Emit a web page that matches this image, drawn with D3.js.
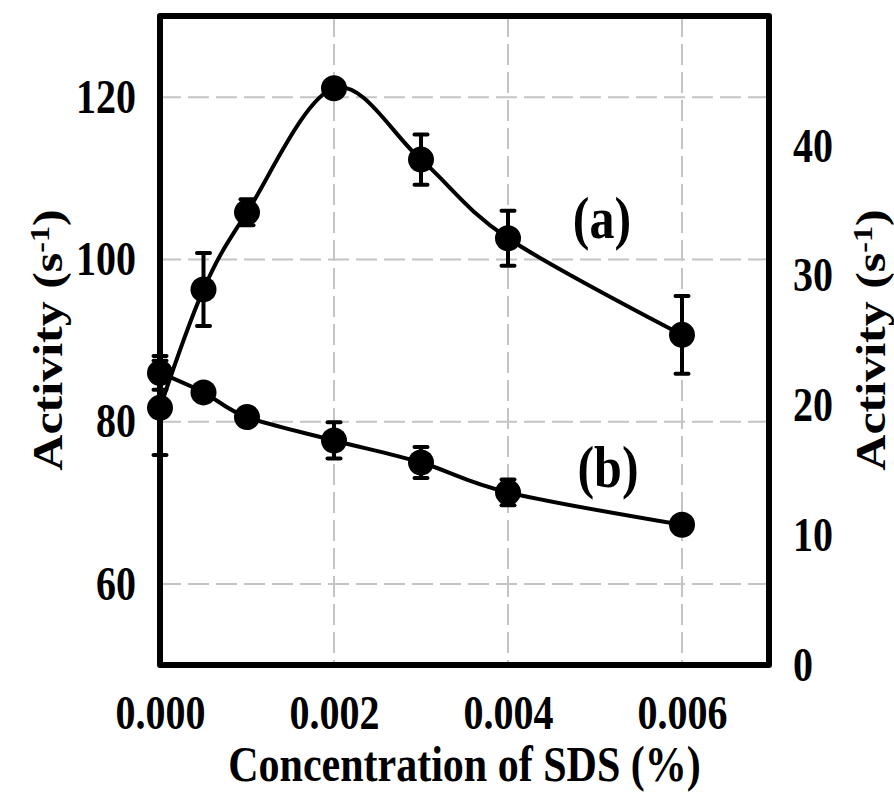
<!DOCTYPE html>
<html>
<head>
<meta charset="utf-8">
<script src="https://cdn.jsdelivr.net/npm/d3@7"></script>
<style>
  html, body { margin: 0; padding: 0; background: #fff; }
  svg text { font-family: "Liberation Serif", "Times New Roman", serif; font-weight: bold; fill: #000; }
</style>
</head>
<body>
<svg id="chart" width="894" height="793"></svg>
<script>
// SDS concentration (%)
const conc = [0, 0.0005, 0.001, 0.002, 0.003, 0.004, 0.006];

// Series (a): activity on the left axis, with error half-widths
const activityA = [81.7, 96.3, 105.8, 121.1, 112.3, 102.6, 90.7];
const errorA    = [5.8, 4.5, 1.6, 0.0, 3.1, 3.4, 4.8];

// Series (b): activity on the right axis, with error half-widths
const activityB = [22.5, 21.0, 19.1, 17.3, 15.6, 13.3, 10.8];
const errorB    = [1.3, 0.6, 0.6, 1.4, 1.2, 1.0, 0.0];

const xTicks = [0, 0.002, 0.004, 0.006];
const leftTicks = [60, 80, 100, 120];
const rightTicks = [0, 10, 20, 30, 40];

const svg = d3.select("#chart");
const L = 160, R = 769, T = 16, B = 665;
const STRETCH = 1.19;   // tall, narrow lettering

const x = d3.scaleLinear().domain([0, 0.007]).range([L, R]);
const yL = d3.scaleLinear().domain([50, 130]).range([B, T]);
const yR = d3.scaleLinear().domain([0, 50]).range([B, T]);

// dashed grid
const grid = svg.append("g").attr("stroke", "#c4c4c4").attr("stroke-width", 2)
  .attr("stroke-dasharray", "21,7");
grid.selectAll("line.v").data(xTicks.filter(d => d > 0)).join("line")
  .attr("x1", d => x(d)).attr("x2", d => x(d)).attr("y1", T).attr("y2", B);
grid.selectAll("line.h").data(leftTicks).join("line")
  .attr("x1", L).attr("x2", R).attr("y1", d => yL(d)).attr("y2", d => yL(d));

// axes (labels only, no tick marks)
const tickFont = 40;
const axL = svg.append("g").attr("transform", `translate(${L},0)`)
  .call(d3.axisLeft(yL).tickValues(leftTicks).tickSize(0).tickPadding(24));
const axR = svg.append("g").attr("transform", `translate(${R},0)`)
  .call(d3.axisRight(yR).tickValues(rightTicks).tickSize(0).tickPadding(24));
const axB = svg.append("g").attr("transform", `translate(0,${B})`)
  .call(d3.axisBottom(x).tickValues(xTicks).tickFormat(d3.format(".3f")).tickSize(0).tickPadding(30));
[axL, axR, axB].forEach(a => {
  a.select(".domain").remove();
  a.selectAll(".tick text").each(function () {
    const t = d3.select(this);
    const tx = +t.attr("x") || 0, ty = +t.attr("y") || 0;
    t.attr("x", 0).attr("y", 0)
      .attr("transform", `translate(${tx},${ty}) scale(1,${STRETCH})`)
      .attr("font-size", tickFont)
      .attr("font-family", "Liberation Serif, Times New Roman, serif")
      .attr("font-weight", "bold");
  });
});

// frame
svg.append("rect").attr("x", L).attr("y", T).attr("width", R - L).attr("height", B - T)
  .attr("fill", "none").attr("stroke", "#000").attr("stroke-width", 6).attr("stroke-linejoin", "round");

function drawSeries(vals, errs, y) {
  const pts = conc.map((c, i) => ({ c, v: vals[i], e: errs[i] }));
  const g = svg.append("g");
  g.append("path").datum(pts)
    .attr("d", d3.line().x(d => x(d.c)).y(d => y(d.v)).curve(d3.curveCardinal.tension(0)))
    .attr("fill", "none").attr("stroke", "#000").attr("stroke-width", 4);
  const eb = g.selectAll("g.err").data(pts.filter(d => d.e > 0)).join("g")
    .attr("stroke", "#000").attr("stroke-width", 4);
  eb.append("line").attr("x1", d => x(d.c)).attr("x2", d => x(d.c))
    .attr("y1", d => y(d.v - d.e)).attr("y2", d => y(d.v + d.e));
  eb.append("line").attr("x1", d => x(d.c) - 6.5).attr("x2", d => x(d.c) + 6.5)
    .attr("y1", d => y(d.v + d.e)).attr("y2", d => y(d.v + d.e)).attr("stroke-linecap", "round");
  eb.append("line").attr("x1", d => x(d.c) - 6.5).attr("x2", d => x(d.c) + 6.5)
    .attr("y1", d => y(d.v - d.e)).attr("y2", d => y(d.v - d.e)).attr("stroke-linecap", "round");
  g.selectAll("circle").data(pts).join("circle")
    .attr("cx", d => x(d.c)).attr("cy", d => y(d.v)).attr("r", 13).attr("fill", "#000");
}
drawSeries(activityB, errorB, yR);
drawSeries(activityA, errorA, yL);

// stretched text helper: baseline anchored at (px, py)
function label(px, py, size, str, rot) {
  return svg.append("text")
    .attr("transform", rot
      ? `translate(${px},${py}) rotate(-90) scale(${STRETCH},1)`
      : `translate(${px},${py}) scale(1,${STRETCH})`)
    .attr("text-anchor", "middle").attr("font-size", size).text(str);
}

// series labels
label(602, 238, 50, "(a)");
label(608, 487, 50, "(b)");

// axis titles
label((L + R) / 2, 781, 42, "Concentration of SDS (%)");

function yTitle(cx, cy) {
  const t = label(cx, cy, 42, null, true);
  t.append("tspan").text("Activity (s");
  t.append("tspan").attr("font-size", 27).attr("dy", -13).text("-1");
  t.append("tspan").attr("dy", 13).text(")");
}
yTitle(62, 340);
yTitle(885, 340);
</script>
</body>
</html>
